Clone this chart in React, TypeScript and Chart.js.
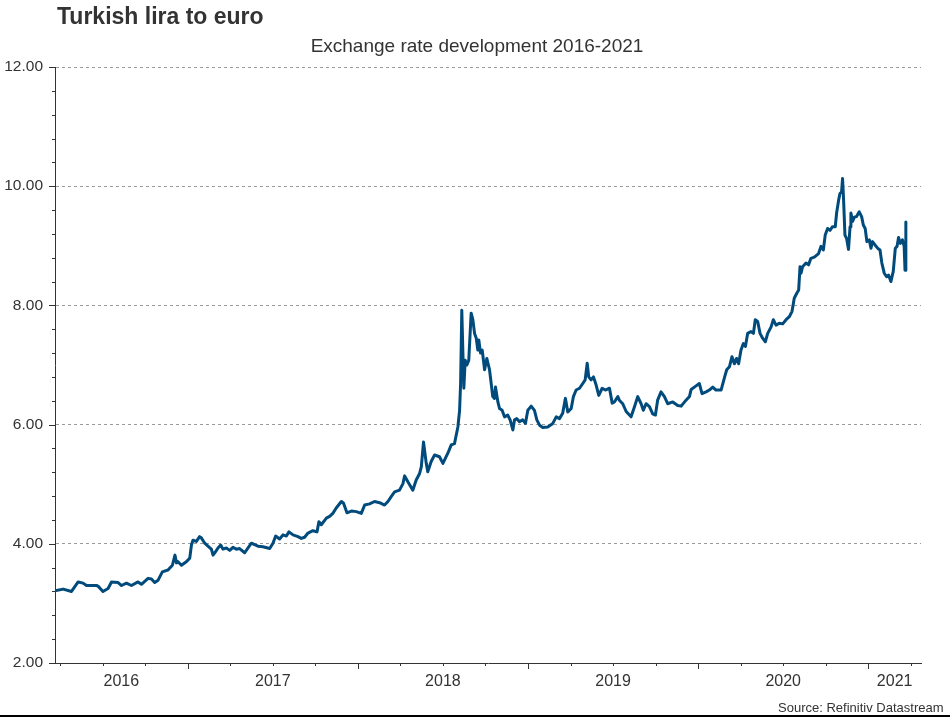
import React, { useEffect, useRef } from 'react';
import { Chart, registerables } from 'chart.js';

Chart.register(...registerables);

const FONT = '"Liberation Sans", Arial, Helvetica, sans-serif';
const TEXT = '#333333';

// Dates as decimal years
const times: number[] = [
  2016.219, 2016.268, 2016.317, 2016.356, 2016.385, 2016.405, 2016.464, 2016.473, 2016.502, 2016.532,
  2016.552, 2016.591, 2016.611, 2016.640, 2016.669, 2016.708, 2016.728, 2016.767, 2016.787, 2016.806,
  2016.826, 2016.851, 2016.884, 2016.910, 2016.925, 2016.934, 2016.943, 2016.963, 2016.992, 2017.012,
  2017.022, 2017.031, 2017.051, 2017.070, 2017.080, 2017.100, 2017.119, 2017.139, 2017.149, 2017.164,
  2017.178, 2017.194, 2017.207, 2017.227, 2017.247, 2017.266, 2017.286,
  2017.305, 2017.335, 2017.374, 2017.413, 2017.442, 2017.482, 2017.501, 2017.517, 2017.540, 2017.560,
  2017.580, 2017.595, 2017.619, 2017.648, 2017.668, 2017.687, 2017.707, 2017.736, 2017.760, 2017.771,
  2017.785, 2017.815, 2017.834, 2017.853, 2017.873, 2017.903, 2017.916, 2017.936, 2017.962, 2017.991,
  2018.020, 2018.040, 2018.069, 2018.098, 2018.128, 2018.157, 2018.177, 2018.196, 2018.216, 2018.245,
  2018.265, 2018.275, 2018.294, 2018.323, 2018.343, 2018.363, 2018.373, 2018.386, 2018.402, 2018.411,
  2018.431, 2018.451, 2018.480, 2018.500, 2018.529, 2018.549, 2018.568,
  2018.588, 2018.598, 2018.604, 2018.611, 2018.617, 2018.623, 2018.631, 2018.641, 2018.652, 2018.666,
  2018.676, 2018.686, 2018.696, 2018.705, 2018.711, 2018.721, 2018.731, 2018.745, 2018.758, 2018.774,
  2018.793, 2018.803, 2018.809, 2018.823, 2018.833, 2018.848, 2018.862, 2018.881, 2018.895, 2018.911,
  2018.921, 2018.934, 2018.950, 2018.969, 2018.985, 2018.999, 2019.019, 2019.038, 2019.052, 2019.068,
  2019.087, 2019.116, 2019.146, 2019.166, 2019.185, 2019.204, 2019.220, 2019.234, 2019.254, 2019.267,
  2019.283, 2019.303, 2019.322, 2019.336, 2019.348, 2019.357, 2019.371, 2019.385, 2019.401, 2019.416,
  2019.436, 2019.455, 2019.479, 2019.495, 2019.508, 2019.528,
  2019.537, 2019.557, 2019.577, 2019.606, 2019.626, 2019.645, 2019.665, 2019.678, 2019.694, 2019.714,
  2019.733, 2019.749, 2019.762, 2019.782, 2019.802, 2019.821, 2019.851, 2019.880, 2019.900, 2019.929,
  2019.949, 2019.959, 2019.988, 2020.007, 2020.023, 2020.047, 2020.066, 2020.086, 2020.105, 2020.135,
  2020.154, 2020.168, 2020.184, 2020.199, 2020.213, 2020.226, 2020.238, 2020.252, 2020.266, 2020.278,
  2020.291, 2020.311, 2020.325, 2020.336, 2020.350, 2020.364, 2020.379, 2020.395, 2020.409, 2020.429,
  2020.442, 2020.458, 2020.477, 2020.497, 2020.517, 2020.536, 2020.552, 2020.565, 2020.579, 2020.591,
  2020.599, 2020.605, 2020.614, 2020.634, 2020.649, 2020.663, 2020.683, 2020.708, 2020.722, 2020.736,
  2020.747, 2020.761, 2020.775, 2020.790, 2020.806, 2020.814, 2020.826,
  2020.834, 2020.843, 2020.849, 2020.855, 2020.863, 2020.873, 2020.884, 2020.893, 2020.898, 2020.908,
  2020.918, 2020.931, 2020.947, 2020.961, 2020.971, 2020.982, 2020.992, 2021.006, 2021.016, 2021.025,
  2021.041, 2021.055, 2021.069, 2021.080, 2021.094, 2021.108, 2021.119, 2021.133, 2021.147, 2021.159,
  2021.169, 2021.178, 2021.188, 2021.201, 2021.211, 2021.216, 2021.221,
];

// Turkish lira per euro
const rates: number[] = [
  3.21, 3.24, 3.20, 3.36, 3.34, 3.30, 3.30, 3.29, 3.20, 3.25,
  3.36, 3.35, 3.30, 3.34, 3.30, 3.36, 3.32, 3.42, 3.41, 3.35,
  3.39, 3.53, 3.56, 3.64, 3.81, 3.68, 3.70, 3.64, 3.70, 3.76,
  3.98, 4.06, 4.04, 4.12, 4.10, 4.01, 3.96, 3.91, 3.81, 3.87,
  3.93, 3.98, 3.91, 3.93, 3.89, 3.94, 3.91,
  3.92, 3.85, 4.01, 3.96, 3.95, 3.92, 4.01, 4.13, 4.08, 4.15,
  4.13, 4.20, 4.15, 4.12, 4.09, 4.11, 4.18, 4.22, 4.20, 4.37,
  4.32, 4.43, 4.46, 4.51, 4.60, 4.71, 4.68, 4.52, 4.55, 4.54,
  4.51, 4.65, 4.67, 4.71, 4.69, 4.65, 4.71, 4.79, 4.87, 4.90,
  5.01, 5.14, 5.04, 4.90, 5.07, 5.18, 5.29, 5.71, 5.35, 5.21,
  5.38, 5.49, 5.46, 5.35, 5.52, 5.66, 5.68,
  5.96, 6.24, 6.69, 7.92, 7.25, 6.61, 7.08, 7.00, 7.08, 7.87,
  7.76, 7.53, 7.45, 7.25, 7.42, 7.20, 7.25, 6.92, 7.11, 6.92,
  6.47, 6.44, 6.63, 6.38, 6.27, 6.24, 6.13, 6.16, 6.08, 5.91,
  6.08, 6.10, 6.05, 6.08, 6.02, 6.24, 6.31, 6.24, 6.08, 5.99,
  5.95, 5.96, 6.02, 6.13, 6.10, 6.19, 6.44, 6.21, 6.27, 6.47,
  6.58, 6.61, 6.69, 6.75, 7.03, 6.80, 6.75, 6.80, 6.66, 6.49,
  6.61, 6.58, 6.61, 6.36, 6.38, 6.47,
  6.41, 6.35, 6.22, 6.13, 6.30, 6.47, 6.35, 6.24, 6.35, 6.30,
  6.18, 6.16, 6.41, 6.55, 6.47, 6.35, 6.38, 6.32, 6.31, 6.41,
  6.47, 6.59, 6.65, 6.69, 6.52, 6.55, 6.58, 6.63, 6.58, 6.58,
  6.78, 6.92, 6.97, 7.14, 7.02, 7.11, 7.02, 7.25, 7.36, 7.31,
  7.53, 7.56, 7.53, 7.76, 7.73, 7.53, 7.45, 7.39, 7.53, 7.64,
  7.76, 7.67, 7.70, 7.69, 7.76, 7.81, 7.90, 8.12, 8.20, 8.26,
  8.65, 8.54, 8.65, 8.71, 8.68, 8.79, 8.81, 8.87, 8.99, 8.93,
  9.18, 9.29, 9.26, 9.32, 9.32, 9.55, 9.77,
  9.88, 9.90, 10.13, 9.77, 9.18, 9.12, 8.94, 9.32, 9.55, 9.41,
  9.48, 9.49, 9.57, 9.49, 9.35, 9.29, 9.07, 9.10, 8.96, 9.07,
  9.01, 8.96, 8.93, 8.71, 8.54, 8.48, 8.51, 8.40, 8.57, 8.96,
  8.99, 9.14, 9.04, 9.10, 8.99, 8.59, 9.40,
];

const xMin = 2016.22;
const xMax = 2021.31;
const yearLabels = ['2016', '2017', '2018', '2019', '2020', '2021'];
const yearLabelPositions = [2016.61, 2017.5, 2018.5, 2019.5, 2020.5, 2021.155];
const yMajorTicks = [2, 4, 6, 8, 10, 12];

const tickMarks = {
  id: 'tickMarks',
  afterDraw(chart: any) {
    const { ctx, chartArea, scales } = chart;
    const xs = scales.x;
    const ys = scales.y;
    ctx.save();
    ctx.strokeStyle = TEXT;
    ctx.lineWidth = 1;
    ctx.beginPath();
    // y ticks every 0.4, major every 2
    for (let i = 0; i <= 25; i++) {
      const v = 2 + i * 0.4;
      const py = Math.round(ys.getPixelForValue(v)) + 0.5;
      const len = i % 5 === 0 ? 6 : 3;
      ctx.moveTo(chartArea.left - len, py);
      ctx.lineTo(chartArea.left, py);
    }
    // x ticks every quarter, major at year boundaries
    for (let i = 0; i <= 20; i++) {
      const v = 2016.25 + i * 0.25;
      const px = Math.round(xs.getPixelForValue(v)) + 0.5;
      const len = i % 4 === 3 ? 6 : 3;
      ctx.moveTo(px, chartArea.bottom);
      ctx.lineTo(px, chartArea.bottom + len);
    }
    ctx.stroke();
    ctx.restore();
  },
};

export default function App() {
  const canvasRef = useRef<HTMLCanvasElement | null>(null);

  useEffect(() => {
    if (!canvasRef.current) return;
    const chart = new Chart(canvasRef.current, {
      type: 'line',
      data: {
        datasets: [
          {
            label: 'TRY per EUR',
            data: times.map((t, i) => ({ x: t, y: rates[i] })),
            borderColor: '#004b7c',
            borderWidth: 3,
            pointRadius: 0,
            tension: 0,
            fill: false,
            borderJoinStyle: 'round',
            borderCapStyle: 'round',
          },
        ],
      },
      options: {
        animation: false,
        responsive: false,
        maintainAspectRatio: false,
        events: [],
        layout: { padding: { top: 67, right: 29, bottom: 0, left: 0 } },
        plugins: {
          legend: { display: false },
          tooltip: { enabled: false },
          title: { display: false },
        },
        scales: {
          x: {
            type: 'linear',
            min: xMin,
            max: xMax,
            afterFit: (s: any) => {
              s.height = 54;
            },
            afterBuildTicks: (s: any) => {
              s.ticks = yearLabelPositions.map((value) => ({ value }));
            },
            ticks: {
              autoSkip: false,
              maxRotation: 0,
              padding: 9,
              color: TEXT,
              font: { family: FONT, size: 16 },
              callback: (_v: any, i: number) => yearLabels[i],
            },
            grid: { display: false, drawTicks: false },
            border: { display: true, color: TEXT, width: 1 },
          },
          y: {
            type: 'linear',
            min: 2,
            max: 12,
            afterFit: (s: any) => {
              s.width = 55;
            },
            afterBuildTicks: (s: any) => {
              s.ticks = yMajorTicks.map((value) => ({ value }));
            },
            ticks: {
              padding: 12,
              color: TEXT,
              font: { family: FONT, size: 15.5 },
              callback: (v: any) => Number(v).toFixed(2),
            },
            grid: {
              drawTicks: false,
              lineWidth: 1,
              color: (c: any) => (c.tick && c.tick.value === 2 ? 'rgba(0,0,0,0)' : '#9a9a9a'),
            },
            border: { display: true, color: TEXT, width: 1, dash: [3, 3] },
          },
        },
      },
      plugins: [tickMarks],
    } as any);
    return () => chart.destroy();
  }, []);

  return (
    <div
      style={{
        position: 'absolute',
        left: 0,
        top: 0,
        width: 950,
        height: 717,
        background: '#ffffff',
        fontFamily: FONT,
        color: TEXT,
        overflow: 'hidden',
      }}
    >
      <canvas
        ref={canvasRef}
        width={950}
        height={717}
        style={{ position: 'absolute', left: 0, top: 0, width: 950, height: 717 }}
      />
      <div
        style={{
          position: 'absolute',
          left: 57,
          top: 4.5,
          fontSize: 23,
          fontWeight: 'bold',
          lineHeight: 1,
          whiteSpace: 'nowrap',
        }}
      >
        Turkish lira to euro
      </div>
      <div
        style={{
          position: 'absolute',
          left: 0,
          width: 954,
          top: 35.9,
          fontSize: 19,
          lineHeight: 1,
          textAlign: 'center',
          whiteSpace: 'nowrap',
        }}
      >
        Exchange rate development 2016-2021
      </div>
      <div
        style={{
          position: 'absolute',
          right: 6.5,
          top: 701.2,
          fontSize: 13,
          lineHeight: 1,
          whiteSpace: 'nowrap',
        }}
      >
        Source: Refinitiv Datastream
      </div>
      <div
        style={{
          position: 'absolute',
          left: 0,
          top: 715,
          width: 950,
          height: 2,
          background: '#000000',
        }}
      />
    </div>
  );
}
